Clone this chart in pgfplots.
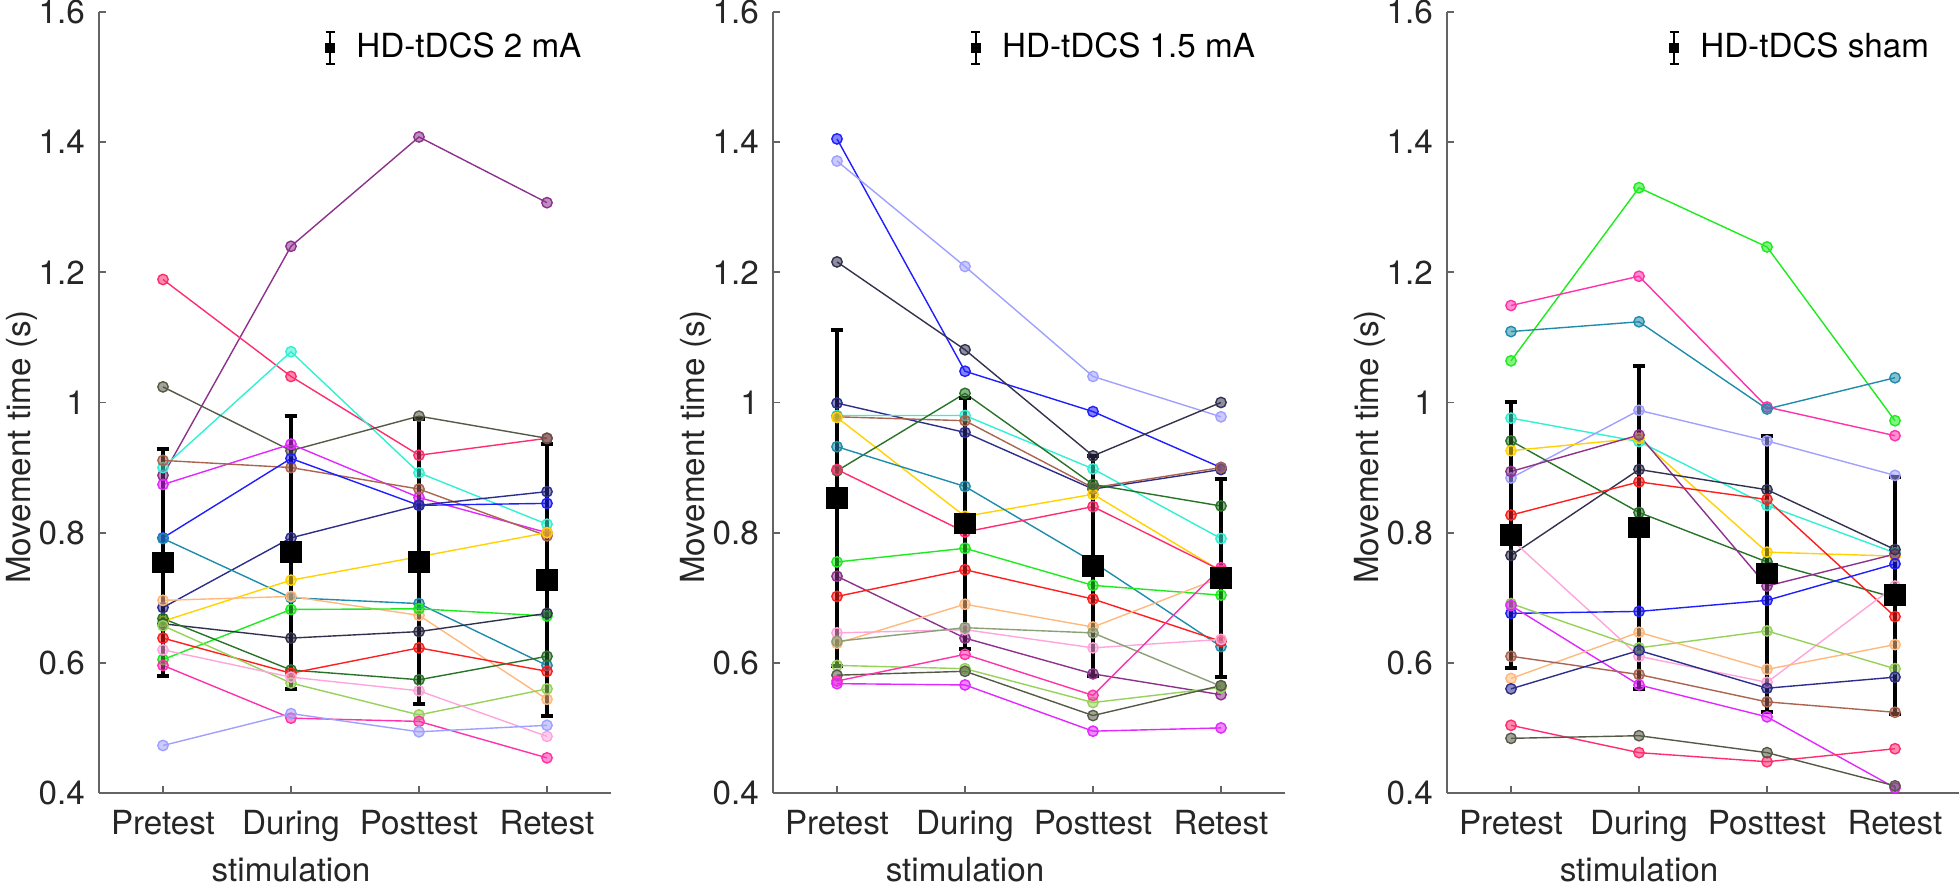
\documentclass[border=0pt]{standalone}
\usepackage{fontspec}
\setmainfont{TeX Gyre Heros}
\usepackage{pgfplots}
\pgfplotsset{compat=1.18}

% subject colours
\definecolor{cPurple}{RGB}{140,50,140}
\definecolor{cCrimson}{RGB}{255,45,110}
\definecolor{cTurq}{RGB}{50,240,210}
\definecolor{cOlive}{RGB}{85,90,70}
\definecolor{cMagenta}{RGB}{225,40,255}
\definecolor{cBrown}{RGB}{170,100,80}
\definecolor{cBlue}{RGB}{30,30,255}
\definecolor{cNavy}{RGB}{45,45,140}
\definecolor{cTeal}{RGB}{30,140,170}
\definecolor{cGold}{RGB}{255,210,0}
\definecolor{cPeach}{RGB}{255,185,125}
\definecolor{cLime}{RGB}{30,235,30}
\definecolor{cSlate}{RGB}{50,50,80}
\definecolor{cDkGreen}{RGB}{40,115,40}
\definecolor{cRed}{RGB}{255,30,30}
\definecolor{cYG}{RGB}{150,210,90}
\definecolor{cLtPink}{RGB}{255,165,220}
\definecolor{cHotPink}{RGB}{255,50,170}
\definecolor{cLav}{RGB}{160,160,255}
\definecolor{cSage}{RGB}{140,160,120}
\definecolor{axgray}{RGB}{100,100,100}

\pgfplotsset{
  panel/.style={
    scale only axis, width=128pt, height=195.25pt,
    xmin=0.5, xmax=4.5, ymin=0.4, ymax=1.6,
    axis lines=left, axis line style={-, draw=axgray, line width=0.45pt},
    tick align=inside, major tick length=1.75pt,
    tick style={draw=axgray, line width=0.45pt},
    xtick={1,2,3,4},
    xticklabels={Pretest, During\\stimulation, Posttest, Retest},
    xticklabel style={align=center, font=\fontsize{8.3}{11.75}\selectfont,
      text=black!85, yshift=-0.75pt},
    ytick={0.4,0.6,0.8,1,1.2,1.4,1.6},
    yticklabels={0.4,0.6,0.8,1,1.2,1.4,1.6},
    yticklabel style={font=\fontsize{8.3}{10}\selectfont, text=black!85},
    ylabel={Movement time (s)},
    ylabel style={font=\fontsize{8.3}{10}\selectfont, text=black!85},
    clip=false,
    legend style={draw=none, fill=none, inner sep=0pt, outer sep=0pt,
      font=\fontsize{8.3}{10}\selectfont, cells={anchor=west}},
  },
  subj/.style={color=#1, line width=0.35pt, mark=*, mark size=1.3pt,
    mark options={draw=none, fill=#1, fill opacity=0.55}, forget plot},
  meanpts/.style={black, only marks, mark=square*, mark size=2.5pt,
    error bars/.cd, y dir=both, y explicit,
    error bar style={line width=1pt, black},
    error mark options={rotate=90, mark size=1.6pt, line width=1pt, black}},
  ebleg/.style={legend image code/.code={
    \draw[black, line width=0.65pt] (1.125pt,-4pt) -- (1.125pt,4pt);
    \draw[black, line width=0.65pt] (0pt,-4pt) -- (2.25pt,-4pt);
    \draw[black, line width=0.65pt] (0pt,4pt) -- (2.25pt,4pt);
    \fill[black] (0.125pt,-1.1pt) rectangle (2.125pt,1.1pt);
    \path (5.5pt,0pt);
  }},
}

\begin{document}
\begin{tikzpicture}
\useasboundingbox (0,0) rectangle (490pt,221.75pt);

% ---------------- 2 mA ----------------
\begin{axis}[panel, at={(24.75pt,23.5pt)}, anchor=south west,
  ylabel style={at={(axis description cs:-0.150,0.443)}, anchor=center},
  legend style={at={(axis description cs:0.44,0.954)}, anchor=west}]
\addplot[subj=cPurple]   coordinates {(1,0.888)(2,1.240)(3,1.408)(4,1.307)};
\addplot[subj=cCrimson]  coordinates {(1,1.189)(2,1.040)(3,0.919)(4,0.945)};
\addplot[subj=cTurq]     coordinates {(1,0.900)(2,1.078)(3,0.892)(4,0.813)};
\addplot[subj=cOlive]    coordinates {(1,1.024)(2,0.926)(3,0.979)(4,0.945)};
\addplot[subj=cMagenta]  coordinates {(1,0.874)(2,0.936)(3,0.854)(4,0.800)};
\addplot[subj=cBrown]    coordinates {(1,0.911)(2,0.900)(3,0.867)(4,0.795)};
\addplot[subj=cBlue]     coordinates {(1,0.792)(2,0.914)(3,0.842)(4,0.845)};
\addplot[subj=cNavy]     coordinates {(1,0.685)(2,0.792)(3,0.842)(4,0.863)};
\addplot[subj=cTeal]     coordinates {(1,0.791)(2,0.700)(3,0.691)(4,0.596)};
\addplot[subj=cGold]     coordinates {(1,0.664)(2,0.727)(3,0.763)(4,0.800)};
\addplot[subj=cPeach]    coordinates {(1,0.696)(2,0.702)(3,0.673)(4,0.544)};
\addplot[subj=cLime]     coordinates {(1,0.605)(2,0.682)(3,0.683)(4,0.672)};
\addplot[subj=cSlate]    coordinates {(1,0.660)(2,0.638)(3,0.648)(4,0.676)};
\addplot[subj=cDkGreen]  coordinates {(1,0.668)(2,0.589)(3,0.574)(4,0.610)};
\addplot[subj=cRed]      coordinates {(1,0.638)(2,0.584)(3,0.623)(4,0.587)};
\addplot[subj=cYG]       coordinates {(1,0.657)(2,0.569)(3,0.520)(4,0.560)};
\addplot[subj=cLtPink]   coordinates {(1,0.620)(2,0.578)(3,0.557)(4,0.487)};
\addplot[subj=cHotPink]  coordinates {(1,0.596)(2,0.515)(3,0.510)(4,0.454)};
\addplot[subj=cLav]      coordinates {(1,0.473)(2,0.522)(3,0.494)(4,0.504)};
\addplot[ebleg, meanpts] coordinates {
  (1,0.754) +- (0,0.174)
  (2,0.770) +- (0,0.210)
  (3,0.755) +- (0,0.219)
  (4,0.727) +- (0,0.209)};
\addlegendentry{HD-tDCS 2 mA}
\end{axis}

% ---------------- 1.5 mA ----------------
\begin{axis}[panel, at={(193.25pt,23.5pt)}, anchor=south west,
  ylabel style={at={(axis description cs:-0.150,0.443)}, anchor=center},
  legend style={at={(axis description cs:0.385,0.954)}, anchor=west}]
\addplot[subj=cBlue]     coordinates {(1,1.405)(2,1.048)(3,0.986)(4,0.900)};
\addplot[subj=cLav]      coordinates {(1,1.371)(2,1.209)(3,1.040)(4,0.978)};
\addplot[subj=cSlate]    coordinates {(1,1.216)(2,1.081)(3,0.918)(4,1.000)};
\addplot[subj=cNavy]     coordinates {(1,0.999)(2,0.954)(3,0.867)(4,0.897)};
\addplot[subj=cTurq]     coordinates {(1,0.980)(2,0.980)(3,0.898)(4,0.791)};
\addplot[subj=cBrown]    coordinates {(1,0.978)(2,0.972)(3,0.869)(4,0.900)};
\addplot[subj=cGold]     coordinates {(1,0.977)(2,0.825)(3,0.859)(4,0.741)};
\addplot[subj=cDkGreen]  coordinates {(1,0.895)(2,1.014)(3,0.874)(4,0.841)};
\addplot[subj=cTeal]     coordinates {(1,0.932)(2,0.871)(3,0.755)(4,0.625)};
\addplot[subj=cCrimson]  coordinates {(1,0.897)(2,0.801)(3,0.840)(4,0.742)};
\addplot[subj=cLime]     coordinates {(1,0.755)(2,0.776)(3,0.719)(4,0.704)};
\addplot[subj=cPurple]   coordinates {(1,0.733)(2,0.638)(3,0.583)(4,0.551)};
\addplot[subj=cRed]      coordinates {(1,0.702)(2,0.743)(3,0.698)(4,0.633)};
\addplot[subj=cPeach]    coordinates {(1,0.630)(2,0.690)(3,0.655)(4,0.731)};
\addplot[subj=cLtPink]   coordinates {(1,0.646)(2,0.651)(3,0.623)(4,0.636)};
\addplot[subj=cSage]     coordinates {(1,0.633)(2,0.654)(3,0.646)(4,0.564)};
\addplot[subj=cYG]       coordinates {(1,0.596)(2,0.591)(3,0.539)(4,0.562)};
\addplot[subj=cOlive]    coordinates {(1,0.581)(2,0.587)(3,0.519)(4,0.565)};
\addplot[subj=cHotPink]  coordinates {(1,0.572)(2,0.613)(3,0.550)(4,0.746)};
\addplot[subj=cMagenta]  coordinates {(1,0.568)(2,0.566)(3,0.495)(4,0.500)};
\addplot[ebleg, meanpts] coordinates {
  (1,0.853) +- (0,0.258)
  (2,0.814) +- (0,0.193)
  (3,0.749) +- (0,0.169)
  (4,0.730) +- (0,0.152)};
\addlegendentry{HD-tDCS 1.5 mA}
\end{axis}

% ---------------- sham ----------------
\begin{axis}[panel, at={(361.75pt,23.5pt)}, anchor=south west,
  ylabel style={at={(axis description cs:-0.150,0.443)}, anchor=center},
  legend style={at={(axis description cs:0.432,0.954)}, anchor=west}]
\addplot[subj=cLime]     coordinates {(1,1.064)(2,1.330)(3,1.239)(4,0.972)};
\addplot[subj=cHotPink]  coordinates {(1,1.149)(2,1.194)(3,0.993)(4,0.949)};
\addplot[subj=cTeal]     coordinates {(1,1.109)(2,1.124)(3,0.990)(4,1.038)};
\addplot[subj=cTurq]     coordinates {(1,0.976)(2,0.940)(3,0.842)(4,0.769)};
\addplot[subj=cLav]      coordinates {(1,0.884)(2,0.988)(3,0.941)(4,0.888)};
\addplot[subj=cDkGreen]  coordinates {(1,0.941)(2,0.831)(3,0.755)(4,0.700)};
\addplot[subj=cGold]     coordinates {(1,0.926)(2,0.945)(3,0.770)(4,0.764)};
\addplot[subj=cPurple]   coordinates {(1,0.894)(2,0.950)(3,0.718)(4,0.767)};
\addplot[subj=cSlate]    coordinates {(1,0.765)(2,0.897)(3,0.866)(4,0.774)};
\addplot[subj=cRed]      coordinates {(1,0.827)(2,0.878)(3,0.851)(4,0.671)};
\addplot[subj=cLtPink]   coordinates {(1,0.790)(2,0.610)(3,0.570)(4,0.718)};
\addplot[subj=cBlue]     coordinates {(1,0.676)(2,0.679)(3,0.696)(4,0.752)};
\addplot[subj=cYG]       coordinates {(1,0.691)(2,0.623)(3,0.649)(4,0.591)};
\addplot[subj=cMagenta]  coordinates {(1,0.688)(2,0.566)(3,0.517)(4,0.408)};
\addplot[subj=cPeach]    coordinates {(1,0.576)(2,0.647)(3,0.590)(4,0.628)};
\addplot[subj=cBrown]    coordinates {(1,0.610)(2,0.582)(3,0.540)(4,0.524)};
\addplot[subj=cNavy]     coordinates {(1,0.560)(2,0.619)(3,0.561)(4,0.578)};
\addplot[subj=cCrimson]  coordinates {(1,0.504)(2,0.462)(3,0.448)(4,0.468)};
\addplot[subj=cOlive]    coordinates {(1,0.484)(2,0.488)(3,0.462)(4,0.411)};
\addplot[ebleg, meanpts] coordinates {
  (1,0.796) +- (0,0.204)
  (2,0.808) +- (0,0.248)
  (3,0.737) +- (0,0.212)
  (4,0.704) +- (0,0.182)};
\addlegendentry{HD-tDCS sham}
\end{axis}
\end{tikzpicture}
\end{document}
